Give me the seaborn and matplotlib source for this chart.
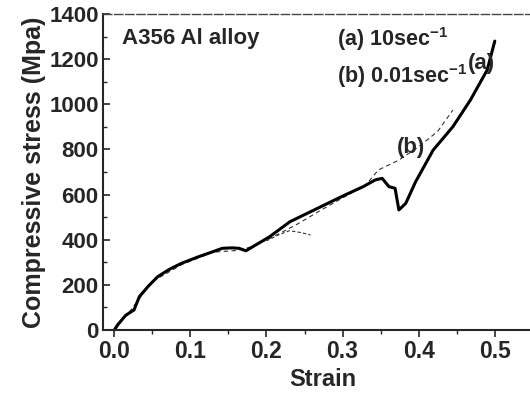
import numpy as np
import pandas as pd
import matplotlib.pyplot as plt
import seaborn as sns
from matplotlib.ticker import MultipleLocator

# curve (a) 10 s^-1
strain_a = [0.0, 0.005, 0.015, 0.026, 0.033, 0.045, 0.057, 0.072, 0.088, 0.111, 0.128, 0.142,
            0.155, 0.164, 0.173, 0.185, 0.204, 0.231, 0.267, 0.303, 0.327, 0.343, 0.352, 0.361,
            0.369, 0.374, 0.383, 0.396, 0.419, 0.445, 0.468, 0.490, 0.500]
stress_a = [0, 25, 65, 89, 148, 195, 236, 268, 295, 325, 345, 362,
            364, 362, 351, 375, 413, 480, 539, 598, 635, 665, 672, 635,
            628, 532, 561, 657, 797, 901, 1019, 1152, 1280]

# curve (b) 0.01 s^-1 (thin, broken)
strain_b = [0.0, 0.02, 0.05, 0.09, 0.13, 0.16, 0.18, 0.21, 0.24, 0.27, 0.30, 0.33,
            0.347, 0.374, 0.40, 0.425, 0.445]
stress_b = [0, 80, 215, 292, 345, 352, 368, 415, 468, 528, 585, 640,
            709, 753, 812, 880, 975]
strain_b2 = [0.20, 0.215, 0.23, 0.245, 0.258]
stress_b2 = [395, 420, 440, 432, 421]

sns.set_style("ticks")
plt.rcParams['font.family'] = ['Liberation Sans', 'DejaVu Sans']
plt.rcParams['font.weight'] = 'bold'
plt.rcParams['mathtext.fontset'] = 'custom'
plt.rcParams['mathtext.rm'] = 'Liberation Sans:bold'
plt.rcParams['mathtext.bf'] = 'Liberation Sans:bold'

fig = plt.figure(figsize=(5.3, 3.94), dpi=100)
ax = fig.add_axes([0.194, 0.1624, 0.83, 0.802])

df_a = pd.DataFrame({'Strain': strain_a, 'Stress': stress_a})
df_b = pd.DataFrame({'Strain': strain_b, 'Stress': stress_b})
df_b2 = pd.DataFrame({'Strain': strain_b2, 'Stress': stress_b2})

sns.lineplot(data=df_b, x='Strain', y='Stress', sort=False, ax=ax,
             color='#333333', lw=0.8, linestyle=(0, (4, 3)))
sns.lineplot(data=df_b2, x='Strain', y='Stress', sort=False, ax=ax,
             color='#333333', lw=0.8, linestyle=(0, (3, 2)))
sns.lineplot(data=df_a, x='Strain', y='Stress', sort=False, ax=ax,
             color='black', lw=2.2)

ax.set_xlim(-0.015, 0.563)
ax.set_ylim(0, 1400)
ax.xaxis.set_major_locator(MultipleLocator(0.1))
ax.xaxis.set_minor_locator(MultipleLocator(0.05))
ax.yaxis.set_major_locator(MultipleLocator(200))
ax.yaxis.set_minor_locator(MultipleLocator(100))
ax.tick_params(axis='x', which='major', direction='out', length=5, width=1.2, labelsize=16.5, pad=2)
ax.tick_params(axis='x', which='minor', direction='out', length=3, width=1)
ax.tick_params(axis='y', which='major', direction='in', length=5, width=1.2, labelsize=16, pad=3)
ax.tick_params(axis='y', which='minor', direction='in', length=3, width=1)
ax.set_xticks([0.0, 0.1, 0.2, 0.3, 0.4, 0.5])
ax.set_xticklabels(['0.0', '0.1', '0.2', '0.3', '0.4', '0.5'], fontweight='bold')
for lab in ax.get_yticklabels():
    lab.set_fontweight('bold')
for s in ['left', 'bottom']:
    ax.spines[s].set_linewidth(1.5)
ax.spines['top'].set_linewidth(1.0)
ax.spines['top'].set_color('#444444')
ax.spines['top'].set_linestyle((0, (6, 2)))
ax.spines['right'].set_visible(False)

ax.set_xlabel('Strain', fontsize=17, fontweight='bold', labelpad=4)
ax.set_ylabel('Compressive stress (Mpa)', fontsize=18, fontweight='bold', labelpad=2)

ax.text(0.010, 1290, 'A356 Al alloy', fontsize=16, fontweight='bold', va='center')
ax.text(0.293, 1290, r'(a) 10sec$^{\mathrm{-1}}$', fontsize=15.5, fontweight='bold', va='center')
ax.text(0.293, 1125, r'(b) 0.01sec$^{\mathrm{-1}}$', fontsize=15.5, fontweight='bold', va='center')
ax.text(0.465, 1180, '(a)', fontsize=16, fontweight='bold', va='center')
ax.text(0.372, 810, '(b)', fontsize=16, fontweight='bold', va='center')

fig.savefig('out.png', dpi=100)
